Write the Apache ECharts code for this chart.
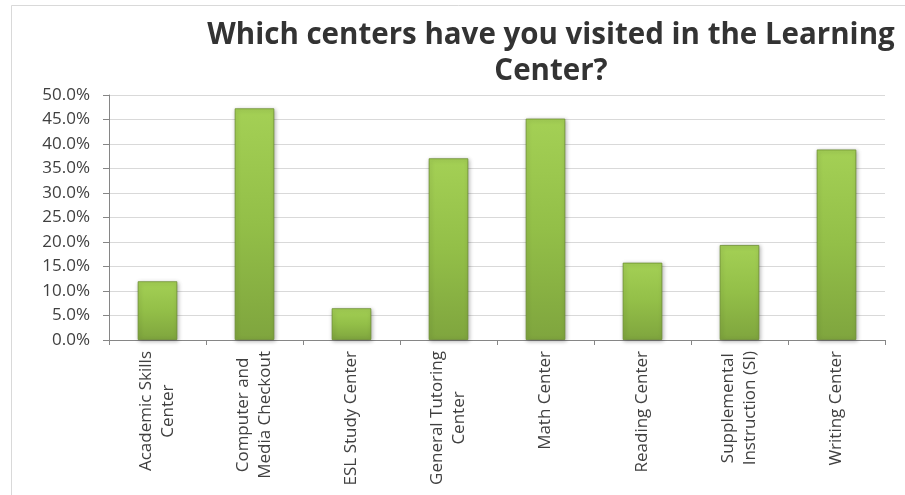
<!DOCTYPE html>
<html><head><meta charset="utf-8">
<script src="https://cdn.jsdelivr.net/npm/echarts@6/dist/echarts.min.js"></script>
<style>html,body{margin:0;padding:0;background:#fff}#c{width:905px;height:495px}</style>
</head><body><div id="c"></div>
<script>
const titleText = 'Which centers have you visited in the Learning\nCenter?';
const categories = [
  'Academic Skills\nCenter',
  'Computer and\nMedia Checkout',
  'ESL Study Center',
  'General Tutoring\nCenter',
  'Math Center',
  'Reading Center',
  'Supplemental\nInstruction (SI)',
  'Writing Center'
];
const values = [12.0, 47.3, 6.5, 37.1, 45.2, 15.8, 19.4, 38.9];
const yMin = 0, yMax = 50, yStep = 5;

const FONT = 'Open Sans';
const chart = echarts.init(document.getElementById('c'), null, {renderer: 'canvas'});
chart.setOption({
  backgroundColor: '#fff',
  animation: false,
  title: {
    text: titleText,
    left: 546,
    top: 13,
    textAlign: 'center',
    textStyle: {fontFamily: FONT, fontWeight: 'bold', fontSize: 29.5, lineHeight: 36, color: '#333'}
  },
  graphic: [{
    type: 'rect', silent: true, z: -1,
    shape: {x: 11.5, y: 5.5, width: 1000, height: 600},
    style: {fill: 'none', stroke: '#d9d9d9', lineWidth: 1}
  }],
  grid: {left: 109, right: 20, top: 95, bottom: 155, containLabel: false},
  xAxis: {
    type: 'category',
    data: categories,
    axisLine: {lineStyle: {color: '#868686'}},
    axisTick: {show: true, length: 5, alignWithLabel: false, lineStyle: {color: '#868686'}},
    axisLabel: {
      rotate: 90, interval: 0, margin: 11,
      fontFamily: FONT, fontSize: 17, color: '#404040', lineHeight: 22,
      formatter: v => v.split('\n').map(s => '{c|' + s + '}').join('\n'),
      rich: {c: {align: 'center', fontFamily: FONT, fontSize: 17, color: '#404040', lineHeight: 22}}
    }
  },
  yAxis: {
    type: 'value', min: yMin, max: yMax, interval: yStep,
    axisLine: {show: true, lineStyle: {color: '#868686'}},
    axisTick: {show: true, length: 6, lineStyle: {color: '#868686'}},
    splitLine: {lineStyle: {color: '#d9d9d9'}},
    axisLabel: {
      fontFamily: FONT, fontSize: 17, color: '#404040', margin: 19,
      formatter: v => v.toFixed(1) + '%'
    }
  },
  series: [{
    type: 'bar',
    data: values,
    barWidth: '41%',
    itemStyle: {
      color: new echarts.graphic.LinearGradient(0, 0, 0, 1, [
        {offset: 0, color: '#a4d055'},
        {offset: 0.5, color: '#93bf48'},
        {offset: 1, color: '#7fa53e'}
      ]),
      borderColor: 'rgba(105,140,45,0.75)',
      borderWidth: 1,
      shadowColor: 'rgba(0,0,0,0.3)',
      shadowBlur: 4,
      shadowOffsetX: 1,
      shadowOffsetY: 1
    }
  }]
});
</script>
</body></html>
